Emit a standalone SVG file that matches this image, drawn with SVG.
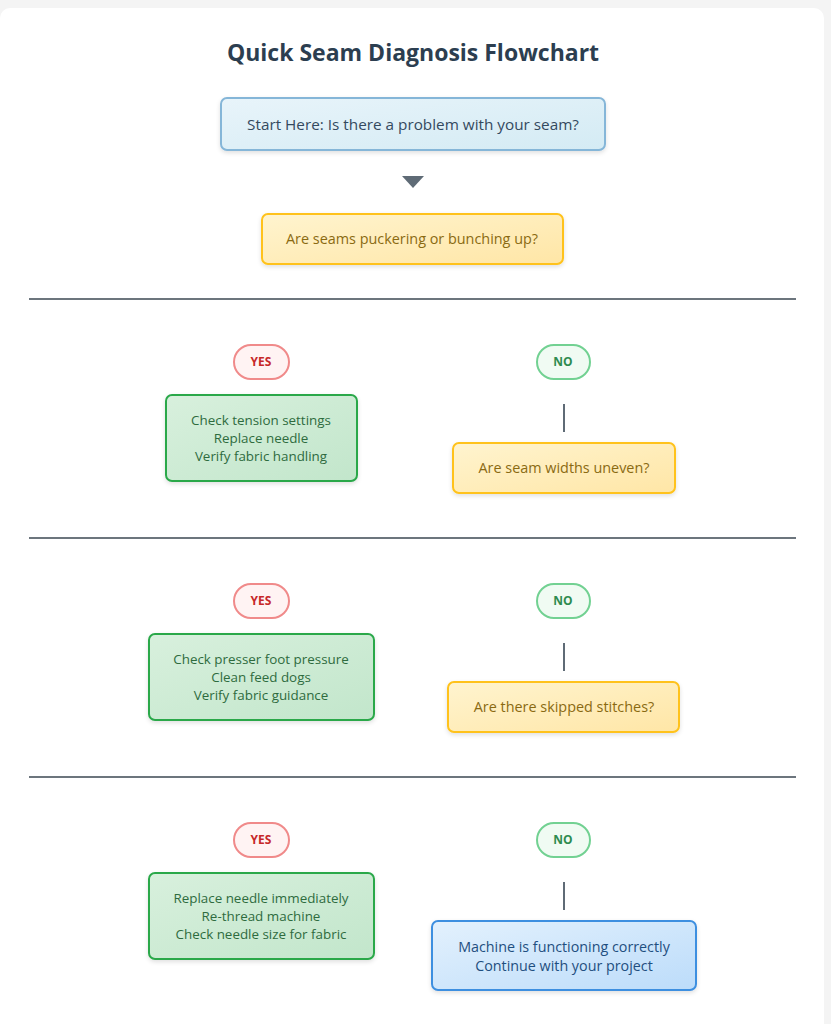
<svg xmlns="http://www.w3.org/2000/svg" width="831" height="1024" viewBox="0 0 831 1024">
<defs>
<linearGradient id="gb" x1="0" y1="0" x2="1" y2="1"><stop offset="0" stop-color="#e8f4fa"/><stop offset="1" stop-color="#d4ebf4"/></linearGradient>
<linearGradient id="gy" x1="0" y1="0" x2="1" y2="1"><stop offset="0" stop-color="#fff4cf"/><stop offset="1" stop-color="#ffe6a6"/></linearGradient>
<linearGradient id="gg" x1="0" y1="0" x2="1" y2="1"><stop offset="0" stop-color="#d8f0dd"/><stop offset="1" stop-color="#c2e6cb"/></linearGradient>
<linearGradient id="gf" x1="0" y1="0" x2="1" y2="1"><stop offset="0" stop-color="#e3f1fd"/><stop offset="1" stop-color="#bcdcfa"/></linearGradient>
<filter id="sh" x="-10%" y="-20%" width="120%" height="150%"><feDropShadow dx="0" dy="2" stdDeviation="2" flood-opacity="0.12"/></filter>
</defs>
<style>
text{font-family:"Open Sans","Noto Sans","Liberation Sans",sans-serif;text-anchor:middle;font-size:13.4px}
.t{font-size:23px;font-weight:bold;fill:#2c3e50}
.b{fill:url(#gb);stroke:#85b6d8;stroke-width:2;filter:url(#sh)}
.bt{fill:#34495e;font-size:15.3px}
.y{fill:url(#gy);stroke:#ffc21a;stroke-width:2;filter:url(#sh)}
.yt{fill:#8a6a12;font-size:14.4px}
.g{fill:url(#gg);stroke:#2aa84a;stroke-width:2;filter:url(#sh)}
.gt{fill:#2e6b3e}
.f{fill:url(#gf);stroke:#3d8fe0;stroke-width:2;filter:url(#sh)}
.ft{fill:#1f4f80;font-size:14.3px}
.py{fill:#fff3f3;stroke:#f08a8a;stroke-width:2}
.pyt{fill:#c62828;font-size:12px;font-weight:bold}
.pn{fill:#f0fbf3;stroke:#72d192;stroke-width:2}
.pnt{fill:#2e8b4f;font-size:12px;font-weight:bold}
.sep{stroke:#6c757d;stroke-width:2}
.v{stroke:#5f6b76;stroke-width:2}
</style>
<rect width="831" height="1024" fill="#f4f4f4"/>
<rect x="0" y="8" width="824" height="1030" rx="10" fill="#ffffff"/>
<text class="t" x="413" y="61">Quick Seam Diagnosis Flowchart</text>
<g id="connectors">
<polygon points="402,176 424,176 413,188" fill="#5f6b76"/>
<line class="sep" x1="29" y1="299" x2="796" y2="299"/>
<line class="sep" x1="29" y1="538" x2="796" y2="538"/>
<line class="sep" x1="29" y1="777" x2="796" y2="777"/>
<line class="v" x1="564" y1="404" x2="564" y2="432"/>
<line class="v" x1="564" y1="643" x2="564" y2="671"/>
<line class="v" x1="564" y1="882" x2="564" y2="910"/>
</g>
<g id="start"><rect class="b" x="221" y="98" width="384" height="52" rx="6"/><text class="bt" x="413" y="130">Start Here: Is there a problem with your seam?</text></g>
<g id="q1"><rect class="y" x="262" y="214" width="301" height="50" rx="6"/><text class="yt" x="412" y="244">Are seams puckering or bunching up?</text></g>
<g id="yes1"><rect class="py" x="234" y="345" width="55" height="34" rx="17"/><text class="pyt" x="261" y="366">YES</text></g>
<g id="no1"><rect class="pn" x="537" y="345" width="53" height="34" rx="17"/><text class="pnt" x="563" y="366">NO</text></g>
<g id="fix1"><rect class="g" x="166" y="395" width="191" height="86" rx="6"/><text class="gt" x="261" y="425">Check tension settings</text><text class="gt" x="261" y="443">Replace needle</text><text class="gt" x="261" y="461">Verify fabric handling</text></g>
<g id="q2"><rect class="y" x="453" y="443" width="222" height="50" rx="6"/><text class="yt" x="564" y="473">Are seam widths uneven?</text></g>
<g id="yes2"><rect class="py" x="234" y="584" width="55" height="34" rx="17"/><text class="pyt" x="261" y="605">YES</text></g>
<g id="no2"><rect class="pn" x="537" y="584" width="53" height="34" rx="17"/><text class="pnt" x="563" y="605">NO</text></g>
<g id="fix2"><rect class="g" x="149" y="634" width="225" height="86" rx="6"/><text class="gt" x="261" y="664">Check presser foot pressure</text><text class="gt" x="261" y="682">Clean feed dogs</text><text class="gt" x="261" y="700">Verify fabric guidance</text></g>
<g id="q3"><rect class="y" x="448" y="682" width="231" height="50" rx="6"/><text class="yt" x="564" y="712">Are there skipped stitches?</text></g>
<g id="yes3"><rect class="py" x="234" y="823" width="55" height="34" rx="17"/><text class="pyt" x="261" y="844">YES</text></g>
<g id="no3"><rect class="pn" x="537" y="823" width="53" height="34" rx="17"/><text class="pnt" x="563" y="844">NO</text></g>
<g id="fix3"><rect class="g" x="149" y="873" width="225" height="86" rx="6"/><text class="gt" x="261" y="903">Replace needle immediately</text><text class="gt" x="261" y="921">Re-thread machine</text><text class="gt" x="261" y="939">Check needle size for fabric</text></g>
<g id="done"><rect class="f" x="432" y="921" width="264" height="69" rx="6"/><text class="ft" x="564" y="952">Machine is functioning correctly</text><text class="ft" x="564" y="971">Continue with your project</text></g>
</svg>
